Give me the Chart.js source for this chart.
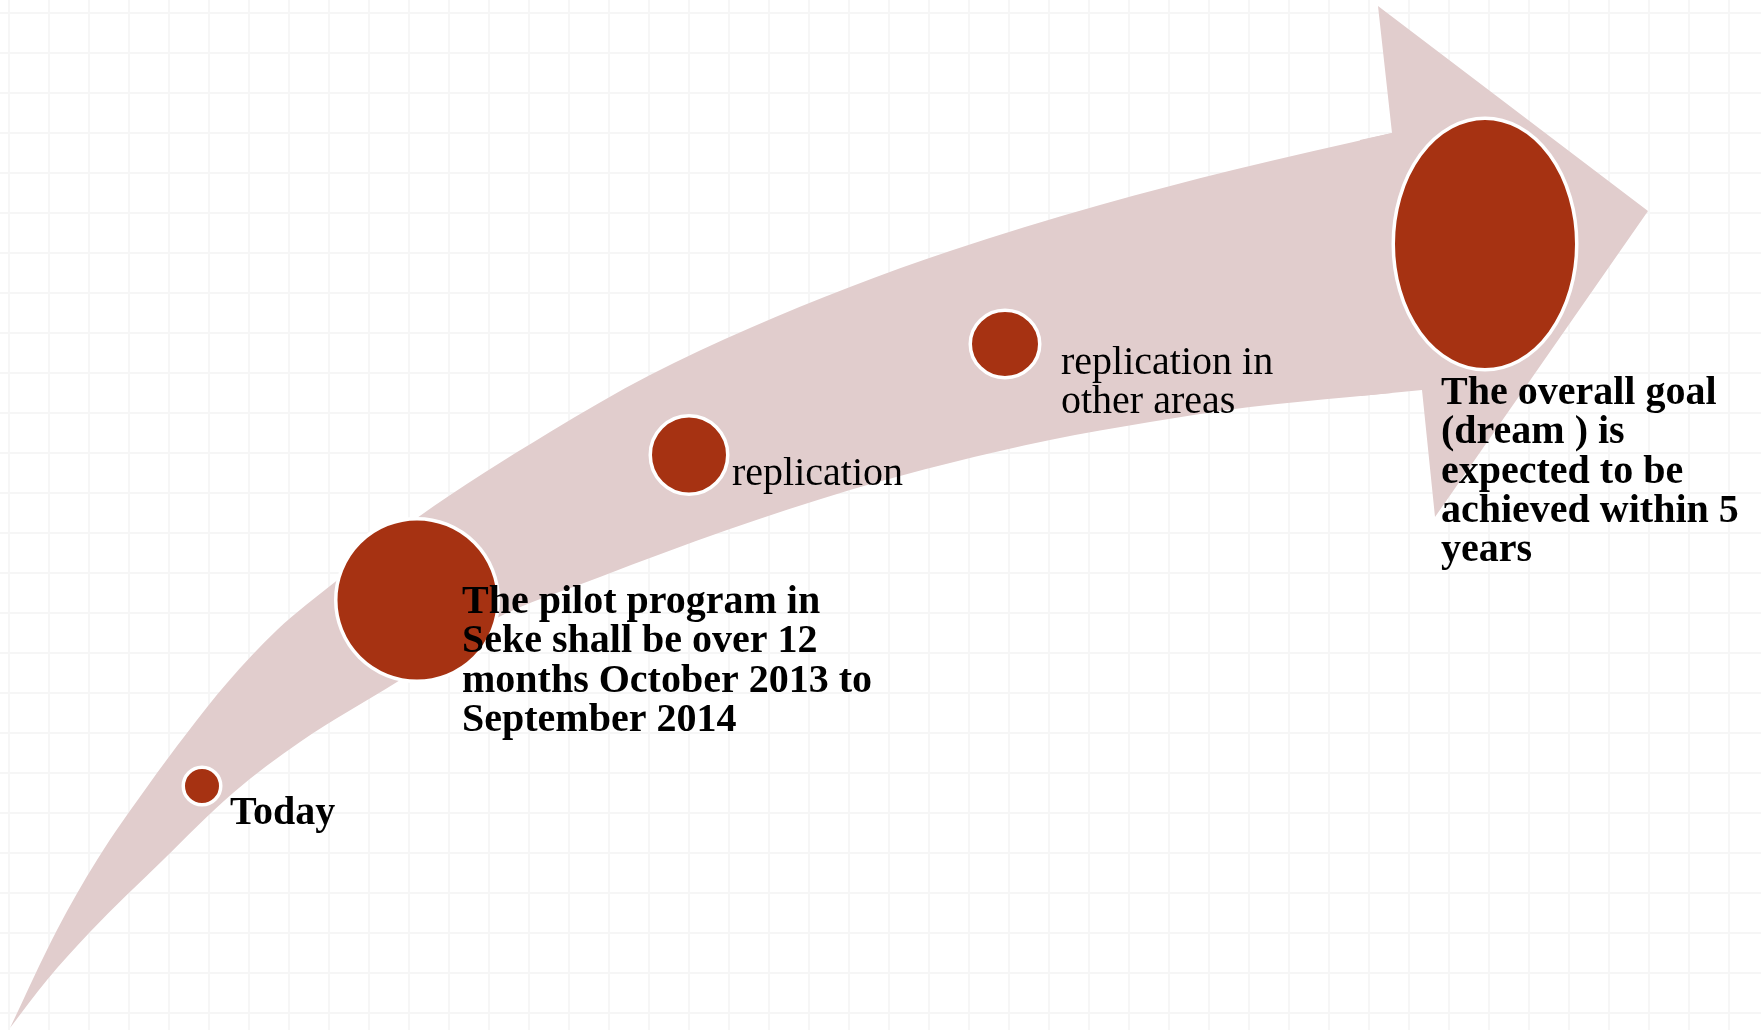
<!doctype html>
<html lang="en">
  <head>
    <meta charset="utf-8">
    <title>Seke pilot program roadmap</title>
    <style>
      * {
        margin: 0;
        padding: 0;
      }
      body {
        background: #ffffff;
      }
      .chartBox {
        width: 1761px;
        height: 1030px;
      }
    </style>
  </head>
  <body>
    <div class="chartBox">
      <canvas id="roadmap" width="1761" height="1030"></canvas>
    </div>

    <script src="https://cdn.jsdelivr.net/npm/chart.js"></script>
    <script>
    // setup: the curved arrow, upper and lower edge of the body, then the head
    const upperX = [10, 57, 97, 147, 187, 227, 277, 335, 417, 550, 650, 750, 850, 950, 1100, 1233, 1392];
    const upperY = [1028, 930, 860, 787, 733, 683, 630, 582, 518, 432, 375, 328, 287, 251, 205, 170, 133];
    const lowerX = [10, 47, 90, 163, 233, 300, 397, 493, 600, 727, 850, 950, 1050, 1150, 1250, 1350, 1422];
    const lowerY = [1028, 980, 932, 860, 793, 742, 682, 620, 577, 530, 490, 463, 440, 422, 407, 397, 390];
    const headX = [1360, 1392, 1378, 1648, 1435, 1422, 1360];
    const headY = [140, 133, 6, 211, 517, 390, 396];

    // milestones along the arrow
    const milestoneX = [202, 417, 689, 1005, 1485];
    const milestoneY = [786, 600, 455, 344, 244];
    const milestoneRx = [17, 79.5, 37, 33, 90];
    const milestoneRy = [17, 79.5, 37.5, 32, 124];
    const milestoneLines = [
      ['Today'],
      ['The pilot program in', 'Seke shall be over 12', 'months October 2013 to', 'September 2014'],
      ['replication'],
      ['replication in', 'other areas'],
      ['The overall goal', '(dream ) is', 'expected to be', 'achieved within 5', 'years']
    ];
    const milestoneBold = [true, true, false, false, true];

    // label placement relative to each milestone centre (pixels)
    const labelStyle = [
      { dx: 28, dy: 38 },
      { dx: 45, dy: 13 },
      { dx: 43, dy: 30 },
      { dx: 56, dy: 30 },
      { dx: -44, dy: 160 }
    ];
    const lineGap = 39.3;
    const arrowColor = '#E1CDCD';

    const gridX = [];
    for (let v = 9; v <= 1761; v += 40) gridX.push(v);
    const gridY = [];
    for (let v = 13; v <= 1030; v += 40) gridY.push(v);

    function toPoints(xs, ys) {
      return xs.map((x, i) => ({ x: x, y: ys[i] }));
    }

    const milestonePlugin = {
      id: 'milestones',
      afterDatasetsDraw(chart) {
        const ctx = chart.ctx;
        const xs = chart.scales.x;
        const ys = chart.scales.y;
        ctx.save();
        for (let i = 0; i < milestoneX.length; i++) {
          const cx = xs.getPixelForValue(milestoneX[i]);
          const cy = ys.getPixelForValue(milestoneY[i]);
          const rx = Math.abs(xs.getPixelForValue(milestoneX[i] + milestoneRx[i]) - cx);
          const ry = Math.abs(ys.getPixelForValue(milestoneY[i] + milestoneRy[i]) - cy);
          ctx.beginPath();
          ctx.ellipse(cx, cy, rx + 1.75, ry + 1.75, 0, 0, Math.PI * 2);
          ctx.fillStyle = '#A63212';
          ctx.fill();
          ctx.lineWidth = 3.5;
          ctx.strokeStyle = '#ffffff';
          ctx.stroke();
        }
        ctx.fillStyle = '#000000';
        ctx.textBaseline = 'alphabetic';
        ctx.textAlign = 'left';
        for (let i = 0; i < milestoneX.length; i++) {
          const cx = xs.getPixelForValue(milestoneX[i]);
          const cy = ys.getPixelForValue(milestoneY[i]);
          ctx.font = (milestoneBold[i] ? 'bold ' : '') + '40px "Liberation Serif", serif';
          milestoneLines[i].forEach((line, j) => {
            ctx.fillText(line, cx + labelStyle[i].dx, cy + labelStyle[i].dy + j * lineGap);
          });
        }
        ctx.restore();
      }
    };

    const data = {
      datasets: [{
        label: 'Arrow upper edge',
        data: toPoints(upperX, upperY),
        showLine: true,
        fill: '+1',
        backgroundColor: arrowColor,
        borderWidth: 0,
        pointRadius: 0,
        cubicInterpolationMode: 'monotone'
      }, {
        label: 'Arrow lower edge',
        data: toPoints(lowerX, lowerY),
        showLine: true,
        fill: false,
        borderWidth: 0,
        pointRadius: 0,
        cubicInterpolationMode: 'monotone'
      }, {
        label: 'Arrow head',
        data: toPoints(headX, headY),
        showLine: true,
        fill: 'shape',
        backgroundColor: arrowColor,
        borderWidth: 0,
        pointRadius: 0,
        tension: 0
      }]
    };

    // config
    const config = {
      type: 'scatter',
      data,
      options: {
        responsive: false,
        animation: false,
        devicePixelRatio: 1,
        layout: { padding: 0 },
        plugins: {
          legend: { display: false },
          tooltip: { enabled: false }
        },
        scales: {
          x: {
            type: 'linear',
            min: 0,
            max: 1761,
            afterBuildTicks: (scale) => { scale.ticks = gridX.map(v => ({ value: v })); },
            ticks: { display: false },
            grid: { color: '#f6f6f6', lineWidth: 2, drawTicks: false },
            border: { display: false }
          },
          y: {
            type: 'linear',
            reverse: true,
            min: 0,
            max: 1030,
            afterBuildTicks: (scale) => { scale.ticks = gridY.map(v => ({ value: v })); },
            ticks: { display: false },
            grid: { color: '#f6f6f6', lineWidth: 2, drawTicks: false },
            border: { display: false }
          }
        }
      },
      plugins: [milestonePlugin]
    };

    // render init block
    const roadmap = new Chart(document.getElementById('roadmap'), config);
    </script>
  </body>
</html>
